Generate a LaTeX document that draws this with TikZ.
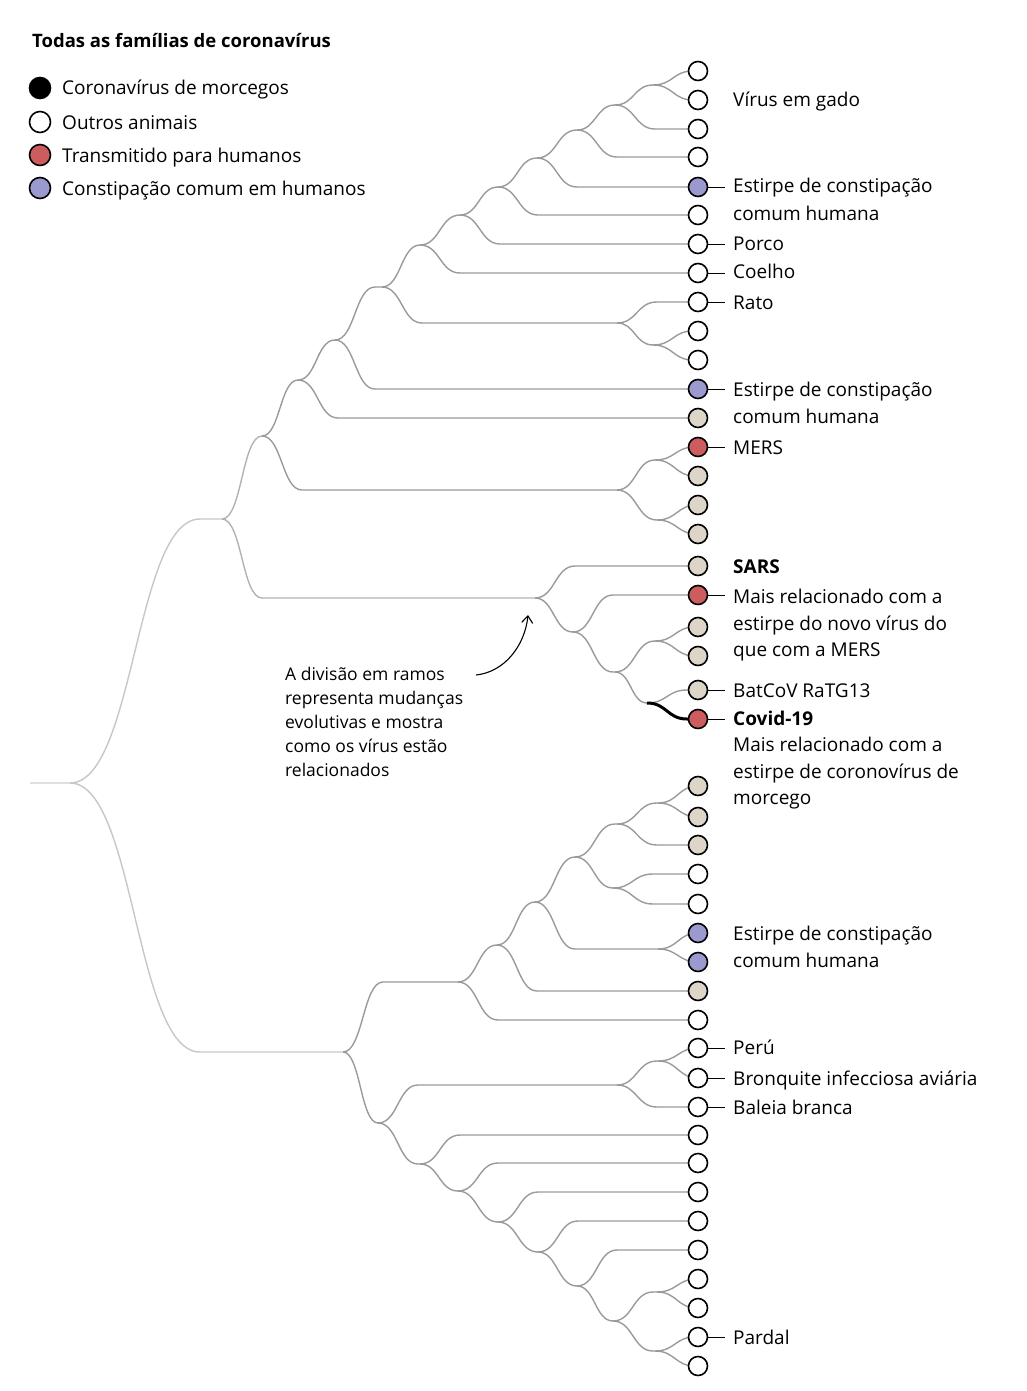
\documentclass[tikz,border=0pt]{standalone}
\usepackage{fontspec}
\setmainfont{Open Sans}
\usetikzlibrary{calc,arrows.meta}
\definecolor{cred}{HTML}{CC5C5E}
\definecolor{cpur}{HTML}{9A9ACF}
\definecolor{cbei}{HTML}{DDD5C7}
\definecolor{cbr}{HTML}{9A9A9A}
\newcommand\brr[3][]{\draw[branch,#1] let \p1=(#2),\p2=(#3),\n1={min(40,\x2-\x1)} in (\p1) .. controls ({\x1+0.5*\n1*1pt},\y1) and ({\x1+0.5*\n1*1pt},\y2) .. ({\x1+\n1*1pt},\y2) -- (\p2);}
\newcommand\brw[3][]{\draw[branch,#1] let \p1=(#2),\p2=(#3) in (\p1) .. controls ({\x1+65pt},\y1) and ({\x1+65pt},\y2) .. ({\x1+130pt},\y2) -- (\p2);}
\begin{document}
\begin{tikzpicture}[x=1pt,y=-1pt,
  branch/.style={draw=cbr,line width=1.4pt},
  leaf/.style={circle,draw=black,line width=1.6pt,minimum size=19pt,inner sep=0pt},
  lab/.style={anchor=base west,font=\fontsize{19}{23}\selectfont,inner sep=0pt},
  labb/.style={lab,font=\fontsize{19}{23}\selectfont\bfseries},
  ann/.style={anchor=base west,font=\fontsize{17.5}{21}\selectfont,inner sep=0pt},
  tick/.style={draw=black,line width=0.8pt}]
\useasboundingbox (0,0) rectangle (1027,1391);
% leaves
\foreach \i/\yy in {1/71,2/100,3/129,4/157,5/187,6/215,7/244,8/273,9/302,10/331,11/360,12/389,13/418,14/447,15/476,16/505,17/534,18/566,19/595,20/627,21/656,22/690,23/719,24/786,25/817,26/845,27/874,28/904,29/933,30/962,31/991,32/1020,33/1048,34/1078,35/1107,36/1135,37/1163,38/1192,39/1221,40/1250,41/1279,42/1308,43/1337,44/1366}
  \coordinate (L\i) at (698,\yy);
% internal
\coordinate (A1) at (653,85); \coordinate (A2) at (615,105); \coordinate (A3) at (577,130);
\coordinate (A4) at (537,158); \coordinate (A5) at (498,187); \coordinate (A6) at (460,215);
\coordinate (A7) at (420,245); \coordinate (B1) at (653,345); \coordinate (B2) at (617,323);
\coordinate (A8) at (382,287); \coordinate (A9) at (335,340); \coordinate (A10) at (298,380);
\coordinate (C1) at (655,460); \coordinate (C2) at (657,520); \coordinate (C3) at (617,490);
\coordinate (A11) at (262,436); \coordinate (D1) at (647,703); \coordinate (D2) at (655,641);
\coordinate (D3) at (615,672); \coordinate (D4) at (573,632); \coordinate (D5) at (535,598);
\coordinate (A12) at (222,519);
\coordinate (E1) at (658,803); \coordinate (E2) at (617,824); \coordinate (F1) at (613,888);
\coordinate (E3) at (575,857); \coordinate (G1) at (658,949); \coordinate (E4) at (535,902);
\coordinate (E5) at (497,945); \coordinate (E6) at (458,982); \coordinate (H1) at (658,1061);
\coordinate (H2) at (617,1085); \coordinate (I7) at (655,1351); \coordinate (I6) at (657,1292);
\coordinate (I5) at (613,1321); \coordinate (I4) at (577,1286); \coordinate (I3) at (538,1252);
\coordinate (I2) at (498,1222); \coordinate (I1) at (458,1191); \coordinate (I0) at (420,1164);
\coordinate (J) at (378,1123); \coordinate (K) at (343,1052); \coordinate (R) at (70,783);
\coordinate (Rs) at (30,783);
% branches
\foreach \ua/\ub in {A1/L1,A1/L2,A2/A1,A2/L3,A3/A2,A3/L4,A4/A3,A4/L5,A5/A4,A5/L6,A6/A5,A6/L7,A7/A6,A7/L8,
  B1/L10,B1/L11,B2/L9,B2/B1,A8/A7,A8/B2,A9/A8,A9/L12,A10/A9,A10/L13,C1/L14,C1/L15,C2/L16,C2/L17,
  C3/C1,C3/C2,A11/A10,A11/C3,D1/L22,D2/L20,D2/L21,D3/D2,D3/D1,D4/L19,D4/D3,D5/L18,D5/D4,
  E1/L24,E1/L25,E2/E1,E2/L26,F1/L27,F1/L28,E3/E2,E3/F1,G1/L29,G1/L30,E4/E3,E4/G1,E5/E4,E5/L31,
  E6/E5,E6/L32,H1/L33,H1/L34,H2/H1,H2/L35,I7/L43,I7/L44,I6/L41,I6/L42,I5/I6,I5/I7,I4/L40,I4/I5,
  I3/L39,I3/I4,I2/L38,I2/I3,I1/L37,I1/I2,I0/L36,I0/I1,J/H2,J/I0,K/E6,K/J}
  {\brr{\ua}{\ub}}
\brr[draw=black,line width=3pt]{D1}{L23}
\brr[draw=black!30]{A12}{A11}
\brr[draw=black!30]{A12}{D5}
\brw[draw=black!22]{R}{A12}
\brw[draw=black!22]{R}{K}
\draw[branch,draw=black!12] (Rs) -- (R);
% leaf circles
\foreach \i/\cl in {1/white,2/white,3/white,4/white,5/cpur,6/white,7/white,8/white,9/white,10/white,11/white,12/cpur,13/cbei,14/cred,15/cbei,16/cbei,17/cbei,18/cbei,19/cred,20/cbei,21/cbei,22/cbei,23/cred,24/cbei,25/cbei,26/cbei,27/white,28/white,29/cpur,30/cpur,31/cbei,32/white,33/white,34/white,35/white,36/white,37/white,38/white,39/white,40/white,41/white,42/white,43/white,44/white}
  \node[leaf,fill=\cl] (N\i) at (L\i) {};
% ticks
\foreach \i in {5,7,8,9,12,14,19,22,23,33,34,35,43}
  \draw[tick] (N\i.east) -- ++(17,0);
% labels
\node[lab] (t2) at (733,107) {Vírus em gado};
\node[lab] (t5a) at (733,193) {Estirpe de constipação};
\node[lab] (t5b) at (733,220) {comum humana};
\node[lab] (t7) at (733,250) {Porco};
\node[lab] (t8) at (733,278) {Coelho};
\node[lab] (t9) at (733,309) {Rato};
\node[lab] (t12a) at (733,396) {Estirpe de constipação};
\node[lab] (t12b) at (733,423) {comum humana};
\node[lab] (t14) at (733,454) {MERS};
\node[labb] (t18) at (733,573) {SARS};
\node[lab] (t19a) at (733,603) {Mais relacionado com a};
\node[lab] (t19b) at (733,630) {estirpe do novo vírus do};
\node[lab] (t19c) at (733,656) {que com a MERS};
\node[lab] (t22) at (733,697) {BatCoV RaTG13};
\node[labb] (t23) at (733,725) {Covid-19};
\node[lab] (t23a) at (733,751) {Mais relacionado com a};
\node[lab] (t23b) at (733,778) {estirpe de coronovírus de};
\node[lab] (t23c) at (733,804) {morcego};
\node[lab] (t29a) at (733,940) {Estirpe de constipação};
\node[lab] (t29b) at (733,967) {comum humana};
\node[lab] (t33) at (733,1054) {Perú};
\node[lab] (t34) at (733,1085) {Bronquite infecciosa aviária};
\node[lab] (t35) at (733,1114) {Baleia branca};
\node[lab] (t43) at (733,1344) {Pardal};
% legend
\node[lab,font=\fontsize{18.5}{22}\selectfont\bfseries] (title) at (32,48) {Todas as famílias de coronavírus};
\node[leaf,fill=black,minimum size=21pt] (g1) at (40,88) {};
\node[leaf,fill=white,minimum size=21pt] (g2) at (40,122) {};
\node[leaf,fill=cred,minimum size=21pt] (g3) at (40,155) {};
\node[leaf,fill=cpur,minimum size=21pt] (g4) at (40,188) {};
\node[lab] (gt1) at (62,95) {Coronavírus de morcegos};
\node[lab] (gt2) at (62,130) {Outros animais};
\node[lab] (gt3) at (62,163) {Transmitido para humanos};
\node[lab] (gt4) at (62,196) {Constipação comum em humanos};
% annotation
\node[ann] (a1) at (285,680) {A divisão em ramos};
\node[ann] (a2) at (285,704) {representa mudanças};
\node[ann] (a3) at (285,728) {evolutivas e mostra};
\node[ann] (a4) at (285,752) {como os vírus estão};
\node[ann] (a5) at (285,776) {relacionados};
\coordinate (arrS) at (476,675);
\coordinate (arrE) at (528,615);
\draw[line width=1.1pt,-{Straight Barb[length=7pt,width=11pt]}] (arrS) .. controls (505,672) and (525,645) .. (arrE);
\end{tikzpicture}
\end{document}
